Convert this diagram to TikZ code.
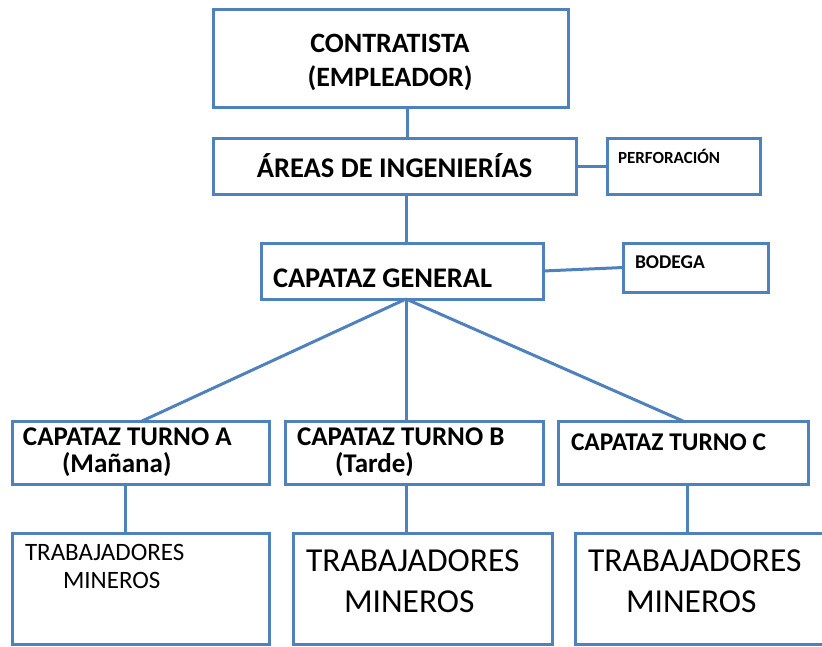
\documentclass[tikz,border=0pt]{standalone}
\usepackage{fontspec}
\setmainfont{Carlito}
\definecolor{boxblue}{HTML}{4F81BD}
\begin{document}
\begin{tikzpicture}[x=1pt,y=-1pt,
  box/.style={draw=boxblue,line width=3pt,rectangle,inner sep=0pt,outer sep=0pt,anchor=north west},
  conn/.style={draw=boxblue,line width=3pt},
  txt/.style={inner sep=0pt,outer sep=0pt,anchor=base west},
  ctxt/.style={inner sep=0pt,outer sep=0pt,anchor=base}]
\useasboundingbox (0,0) rectangle (822,646);
% boxes
\node[box,minimum width=355pt,minimum height=98pt] (contr) at (213,9) {};
\node[box,minimum width=363pt,minimum height=56pt] (areas) at (213,138) {};
\node[box,minimum width=153pt,minimum height=56pt] (perf) at (607,138) {};
\node[box,minimum width=282pt,minimum height=56pt] (gen) at (261,243) {};
\node[box,minimum width=145pt,minimum height=49pt] (bod) at (623,243) {};
\node[box,minimum width=257pt,minimum height=63pt] (ta) at (12,421) {};
\node[box,minimum width=258pt,minimum height=63pt] (tb) at (285,421) {};
\node[box,minimum width=250pt,minimum height=63pt] (tc) at (558,421) {};
\node[box,minimum width=257pt,minimum height=111pt] (wa) at (12,533) {};
\node[box,minimum width=259pt,minimum height=111pt] (wb) at (293,533) {};
\node[box,minimum width=255pt,minimum height=111pt] (wc) at (575,533) {};
% column coordinates
\coordinate (c407) at (407,0);
\coordinate (c406) at (406,0);
\coordinate (cta) at (142,0);
\coordinate (cwa) at (125,0);
\coordinate (ctc) at (683,0);
\coordinate (cwc) at (687,0);
% connectors
\draw[conn] (contr.south -| c407) -- (areas.north -| c407);
\draw[conn] (areas.south -| c406) -- (gen.north -| c406);
\draw[conn] (areas.east) -- (perf.west);
\draw[conn] (gen.east) -- (bod.west);
\draw[conn] (gen.south -| c406) -- (ta.north -| cta);
\draw[conn] (gen.south -| c406) -- (tb.north -| c406);
\draw[conn] (gen.south -| c406) -- (tc.north -| ctc);
\draw[conn] (ta.south -| cwa) -- (wa.north -| cwa);
\draw[conn] (tb.south -| c406) -- (wb.north -| c406);
\draw[conn] (tc.south -| cwc) -- (wc.north -| cwc);
% texts
\node[ctxt,font=\bfseries\fontsize{28}{34}\selectfont] (t1a) at (390,52) {CONTRATISTA};
\node[ctxt,font=\bfseries\fontsize{28}{34}\selectfont] (t1b) at (390,86) {(EMPLEADOR)};
\node[ctxt,font=\bfseries\fontsize{28.5}{34}\selectfont] (t2) at (394.5,177) {ÁREAS DE INGENIERÍAS};
\node[txt,font=\bfseries\fontsize{17}{20}\selectfont] (t3) at (618,163) {PERFORACIÓN};
\node[txt,font=\bfseries\fontsize{28.4}{33}\selectfont] (t4) at (273,287) {CAPATAZ GENERAL};
\node[txt,font=\bfseries\fontsize{19.5}{23}\selectfont] (t5) at (635,268) {BODEGA};
\node[txt,font=\bfseries\fontsize{27}{30}\selectfont] (t6a) at (23,445) {CAPATAZ TURNO A};
\node[txt,font=\bfseries\fontsize{27}{30}\selectfont] (t6b) at (62,472) {(Mañana)};
\node[txt,font=\bfseries\fontsize{27}{30}\selectfont] (t7a) at (297,445) {CAPATAZ TURNO B};
\node[txt,font=\bfseries\fontsize{27}{30}\selectfont] (t7b) at (335,472) {(Tarde)};
\node[txt,font=\bfseries\fontsize{25.5}{30}\selectfont] (t8) at (571,450) {CAPATAZ TURNO C};
\node[txt,font=\fontsize{25}{30}\selectfont] (t9a) at (25,560) {TRABAJADORES};
\node[txt,font=\fontsize{25}{30}\selectfont] (t9b) at (63,588) {MINEROS};
\node[txt,font=\fontsize{33.5}{41}\selectfont] (t10a) at (306,571) {TRABAJADORES};
\node[txt,font=\fontsize{33.5}{41}\selectfont] (t10b) at (344,612) {MINEROS};
\node[txt,font=\fontsize{33.5}{41}\selectfont] (t11a) at (588,571) {TRABAJADORES};
\node[txt,font=\fontsize{33.5}{41}\selectfont] (t11b) at (626,612) {MINEROS};
\end{tikzpicture}
\end{document}
